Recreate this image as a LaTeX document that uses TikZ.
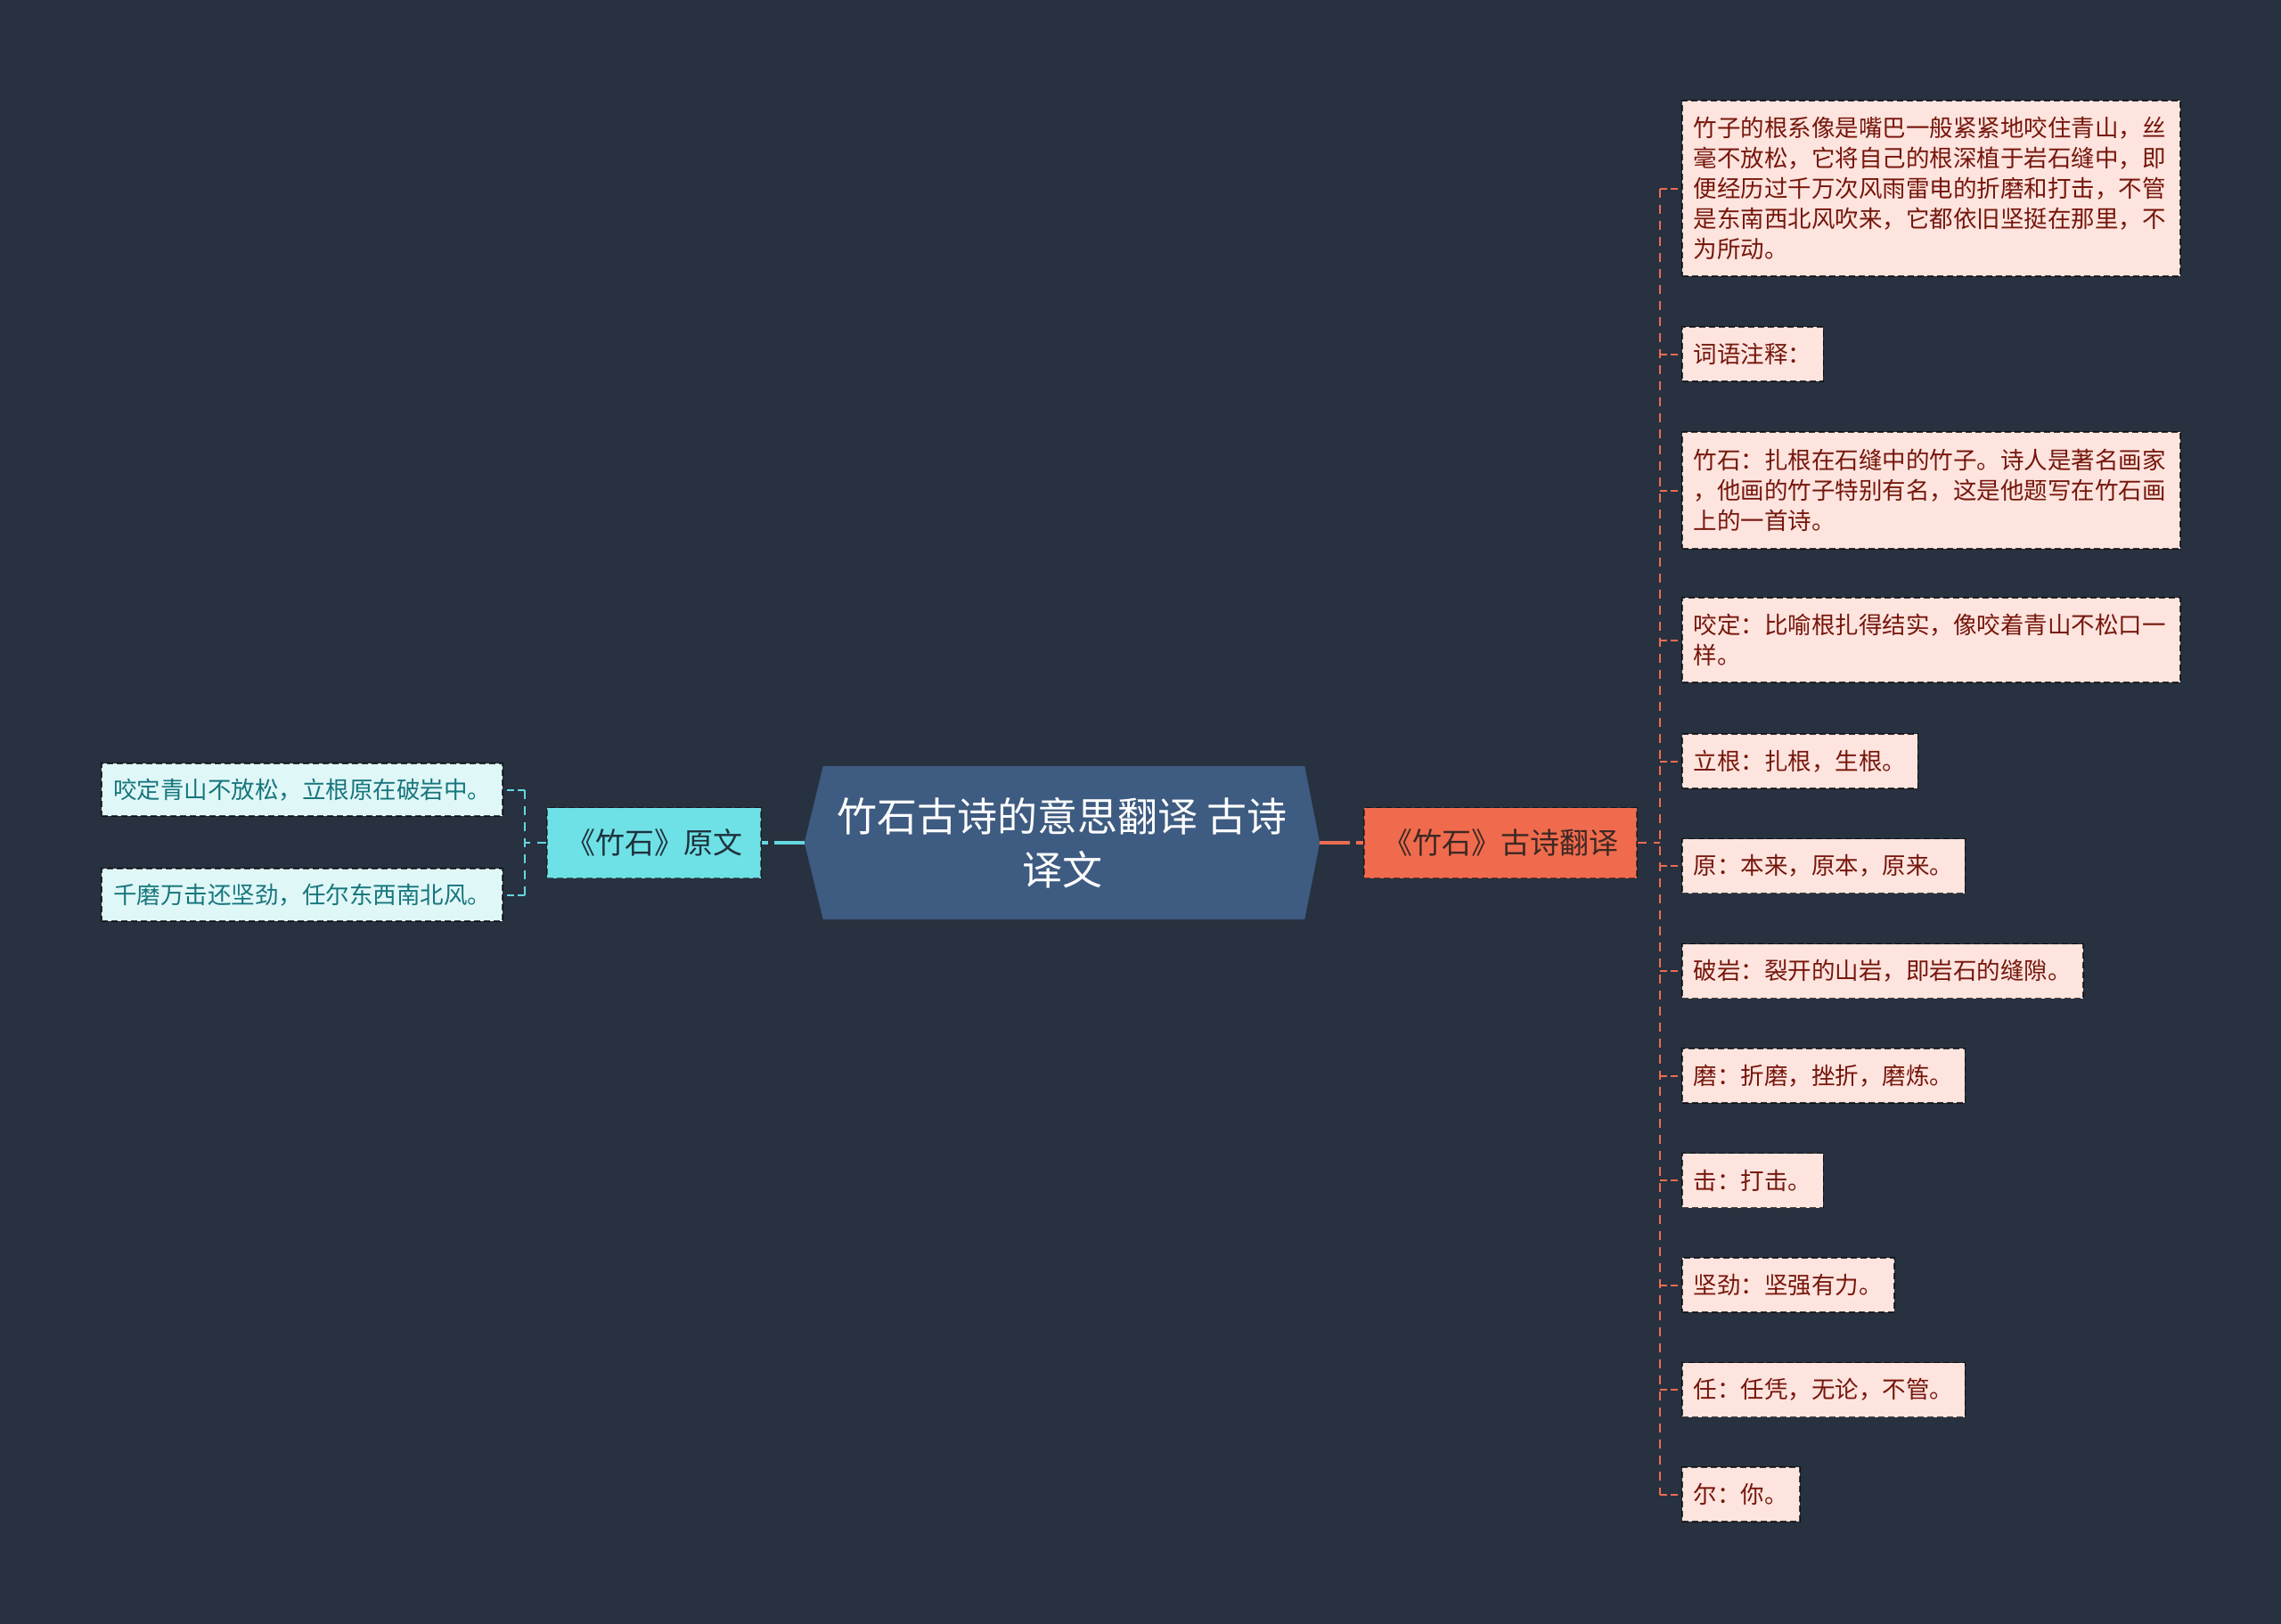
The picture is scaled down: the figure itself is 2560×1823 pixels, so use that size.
\documentclass[tikz,border=0pt]{standalone}
\usepackage{fontspec}
\setmainfont{Noto Sans CJK SC}
\usetikzlibrary{backgrounds,calc}
\definecolor{bgc}{RGB}{40,49,63}
\definecolor{hexc}{RGB}{62,91,129}
\definecolor{orfill}{RGB}{240,107,77}
\definecolor{orline}{RGB}{236,108,82}
\definecolor{ortext}{RGB}{60,40,36}
\definecolor{cyfill}{RGB}{110,225,230}
\definecolor{cyline}{RGB}{100,215,225}
\definecolor{cytext}{RGB}{30,50,60}
\definecolor{lcfill}{RGB}{224,247,248}
\definecolor{lctext}{RGB}{22,118,124}
\definecolor{rlfill}{RGB}{253,228,222}
\definecolor{rltext}{RGB}{118,22,12}
\tikzset{
  leafbox/.style={draw=black, draw opacity=0.7, line width=1.6pt, dash pattern=on 7pt off 4pt, inner xsep=13pt, inner ysep=0pt,
    font=\fontsize{26.5}{34}\selectfont, align=left},
  rleaf/.style={leafbox, fill=rlfill, text=rltext, anchor=west, minimum height=61pt},
  lleaf/.style={leafbox, fill=lcfill, text=lctext, anchor=east, minimum height=59pt},
  mainbranch/.style={draw=black, draw opacity=0.5, line width=1.6pt, dash pattern=on 7pt off 4pt, inner xsep=21pt, inner ysep=0pt,
    minimum height=79pt, font=\fontsize{33}{40}\selectfont},
  orconn/.style={draw=orline, line width=2pt, dash pattern=on 10pt off 8pt},
  cyconn/.style={draw=cyline, line width=2pt, dash pattern=on 10pt off 8pt},
  thickconn/.style={line width=4.5pt, dash pattern=on 34pt off 7pt}
}
\begin{document}
\begin{tikzpicture}[x=1pt,y=-1pt]
\useasboundingbox (0,0) rectangle (2560,1823);
% central node
\node[minimum width=578pt, minimum height=172pt, inner sep=0pt, text=white, align=center,
  font=\fontsize{45}{60}\selectfont] (root) at (1192,946) {竹石古诗的意思翻译 古诗\\译文};
% branches
\node[mainbranch, fill=cyfill, text=cytext] (yw) at (734,946) {《竹石》原文};
\node[mainbranch, fill=orfill, text=ortext] (fy) at (1684,946) {《竹石》古诗翻译};
% left leaves
\node[lleaf] (ll1) at (565,886.5) {咬定青山不放松，立根原在破岩中。};
\node[lleaf] (ll2) at (565,1004.5) {千磨万击还坚劲，任尔东西南北风。};
% right leaves
\node[rleaf, text width=533pt, minimum height=197pt] (r1) at (1887,211.5) {竹子的根系像是嘴巴一般紧紧地咬住青山，丝\\毫不放松，它将自己的根深植于岩石缝中，即\\便经历过千万次风雨雷电的折磨和打击，不管\\是东南西北风吹来，它都依旧坚挺在那里，不\\为所动。};
\node[rleaf] (r2) at (1887,397.5) {词语注释：};
\node[rleaf, text width=533pt, minimum height=131pt] (r3) at (1887,550.5) {竹石：扎根在石缝中的竹子。诗人是著名画家\\，他画的竹子特别有名，这是他题写在竹石画\\上的一首诗。};
\node[rleaf, text width=533pt, minimum height=95pt] (r4) at (1887,718.5) {咬定：比喻根扎得结实，像咬着青山不松口一\\样。};
\node[rleaf] (r5) at (1887,854.5) {立根：扎根，生根。};
\node[rleaf] (r6) at (1887,972) {原：本来，原本，原来。};
\node[rleaf] (r7) at (1887,1090) {破岩：裂开的山岩，即岩石的缝隙。};
\node[rleaf] (r8) at (1887,1207.5) {磨：折磨，挫折，磨炼。};
\node[rleaf] (r9) at (1887,1325) {击：打击。};
\node[rleaf] (r10) at (1887,1442.5) {坚劲：坚强有力。};
\node[rleaf] (r11) at (1887,1560) {任：任凭，无论，不管。};
\node[rleaf] (r12) at (1887,1677.5) {尔：你。};
\coordinate (rbus) at (1863,946);
\coordinate (lbus) at (589,946);
\begin{scope}[on background layer]
  \fill[bgc] (0,0) rectangle (2560,1823);
  \fill[hexc] (root.west) -- ($(root.north west)+(21,0)$) -- ($(root.north east)+(-17,0)$) -- (root.east)
     -- ($(root.south east)+(-17,0)$) -- ($(root.south west)+(21,0)$) -- cycle;
  % thick connectors
  \draw[cyline, thickconn] (root.west) -- (yw.east);
  \draw[orline, thickconn] (root.east) -- (fy.west);
  % right bus
  \draw[orconn] (fy.east) -- (rbus);
  \draw[orconn] (rbus |- r1.west) -- (rbus |- r12.west);
  \foreach \n in {r1,r2,r3,r4,r5,r6,r7,r8,r9,r10,r11,r12}
    \draw[orconn, dash pattern=on 8pt off 4pt] (rbus |- \n.west) -- (\n.west);
  % left bus
  \draw[cyconn] (yw.west) -- (lbus);
  \draw[cyconn] (lbus |- ll1.east) -- (lbus |- ll2.east);
  \foreach \n in {ll1,ll2}
    \draw[cyconn, dash pattern=on 8pt off 4pt] (lbus |- \n.east) -- (\n.east);
\end{scope}
\end{tikzpicture}
\end{document}
